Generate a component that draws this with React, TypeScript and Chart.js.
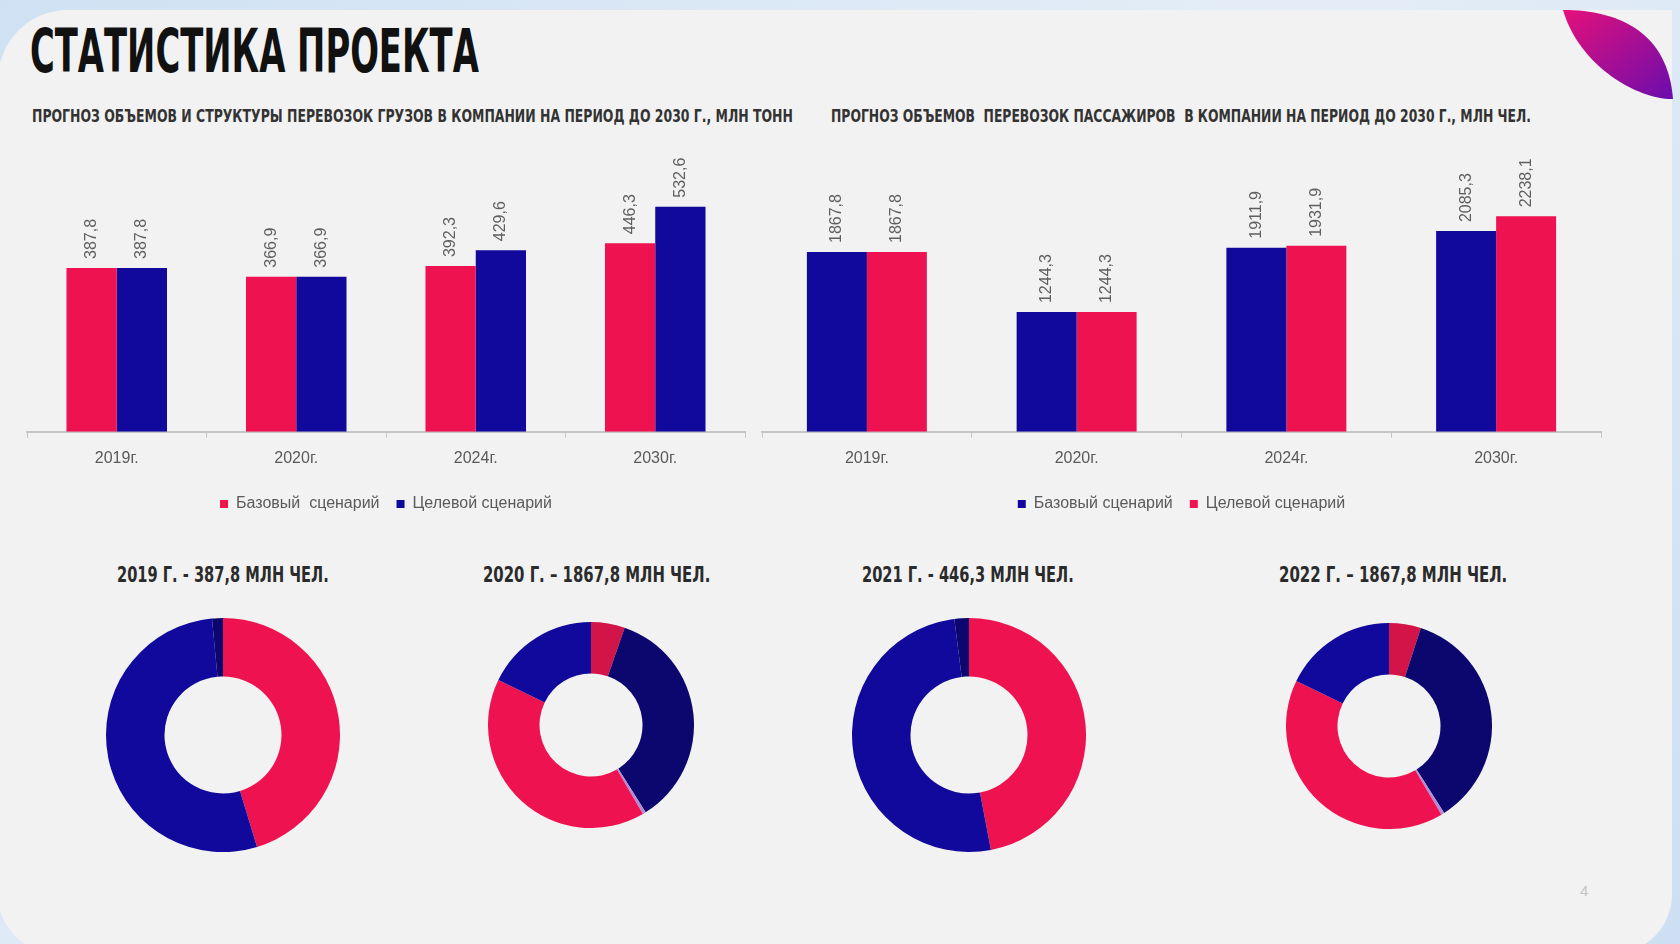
import React, { useEffect, useLayoutEffect, useRef, useState } from 'react';
import { Chart, registerables } from 'chart.js';

Chart.register(...registerables);

const PINK = '#EE1250';
const BLUE = '#10099B';
const NAVY = '#0B076E';
const CRIMSON = '#D21449';
const LILAC = '#B58BD8';

const FONT = "'Liberation Sans', Arial, sans-serif";
const NARROW = "'Liberation Sans Narrow', 'DejaVu Sans Condensed', 'Liberation Sans', sans-serif";

const years = ['2019г.', '2020г.', '2024г.', '2030г.'];
const cargoBase = [387.8, 366.9, 392.3, 446.3];
const cargoTarget = [387.8, 366.9, 429.6, 532.6];
const paxBase = [1867.8, 1244.3, 1911.9, 2085.3];
const paxTarget = [1867.8, 1244.3, 1931.9, 2238.1];
const cargoLegend = ['Базовый  сценарий', 'Целевой сценарий'];
const paxLegend = ['Базовый сценарий', 'Целевой сценарий'];

const donutLabels3 = ['Сегмент 1', 'Сегмент 2', 'Сегмент 3'];
const donutLabels5 = ['Сегмент 1', 'Сегмент 2', 'Сегмент 3', 'Сегмент 4', 'Сегмент 5'];
const donut2019 = [45.3, 53.2, 1.5];
const donut2020 = [5.3, 35.8, 0.5, 40.6, 17.8];
const donut2021 = [47.0, 51.0, 2.0];
const donut2022 = [5.0, 36.0, 0.5, 40.7, 17.8];
const donutColors3 = [PINK, BLUE, NAVY];
const donutColors5 = [CRIMSON, NAVY, LILAC, PINK, BLUE];

const fmt = (v: number) => v.toFixed(1).replace('.', ',');

const barValueLabels = {
  id: 'barValueLabels',
  afterDatasetsDraw(chart: any) {
    const { ctx } = chart;
    ctx.save();
    ctx.font = `16px ${FONT}`;
    ctx.fillStyle = '#5f5f5f';
    chart.data.datasets.forEach((ds: any, di: number) => {
      const meta = chart.getDatasetMeta(di);
      meta.data.forEach((el: any, i: number) => {
        ctx.save();
        ctx.translate(el.x, el.y - 9);
        ctx.rotate(-Math.PI / 2);
        ctx.textAlign = 'left';
        ctx.textBaseline = 'middle';
        ctx.fillText(fmt(ds.data[i]), 0, 0);
        ctx.restore();
      });
    });
    ctx.restore();
  },
};

type BarProps = {
  left: number; top: number; width: number; height: number;
  base: number[]; target: number[]; baseColor: string; targetColor: string;
  legend: string[]; max: number; catPct: number;
};

function BarChart(p: BarProps) {
  const ref = useRef<HTMLCanvasElement>(null);
  useEffect(() => {
    if (!ref.current) return;
    const chart = new Chart(ref.current, {
      type: 'bar',
      data: {
        labels: years,
        datasets: [
          { label: p.legend[0], data: p.base, backgroundColor: p.baseColor, borderWidth: 0, barPercentage: 1, categoryPercentage: p.catPct },
          { label: p.legend[1], data: p.target, backgroundColor: p.targetColor, borderWidth: 0, barPercentage: 1, categoryPercentage: p.catPct },
        ],
      },
      options: {
        animation: false,
        responsive: false,
        maintainAspectRatio: false,
        layout: { padding: { left: 10, right: 10, top: 16, bottom: 0 } },
        plugins: {
          legend: {
            position: 'bottom',
            labels: { boxWidth: 8, boxHeight: 8, padding: 17, color: '#5a5a5a', font: { size: 16, family: FONT } },
          },
          tooltip: { enabled: false },
        },
        scales: {
          x: {
            grid: { display: true, drawOnChartArea: false, drawTicks: true, tickLength: 6, color: '#c6c6c6', offset: true },
            border: { display: true, color: '#c6c6c6', width: 2 },
            ticks: { color: '#5a5a5a', font: { size: 16, family: FONT }, padding: 11 },
          },
          y: { display: false, min: 0, max: p.max },
        },
      },
      plugins: [barValueLabels],
    } as any);
    return () => chart.destroy();
  }, []);
  return (
    <canvas
      ref={ref}
      width={p.width}
      height={p.height}
      style={{ position: 'absolute', left: p.left, top: p.top, width: p.width, height: p.height }}
    />
  );
}

type DonutProps = { cx: number; cy: number; r: number; data: number[]; colors: string[]; labels: string[] };

function Donut(p: DonutProps) {
  const ref = useRef<HTMLCanvasElement>(null);
  const size = Math.round(p.r * 2);
  useEffect(() => {
    if (!ref.current) return;
    const chart = new Chart(ref.current, {
      type: 'doughnut',
      data: {
        labels: p.labels,
        datasets: [{ data: p.data, backgroundColor: p.colors, borderWidth: 0 }],
      },
      options: {
        animation: false,
        responsive: false,
        maintainAspectRatio: false,
        cutout: '50%',
        layout: { padding: 0 },
        plugins: { legend: { display: false }, tooltip: { enabled: false } },
      },
    } as any);
    return () => chart.destroy();
  }, []);
  return (
    <canvas
      ref={ref}
      width={size}
      height={size}
      style={{ position: 'absolute', left: p.cx - size / 2, top: p.cy - size / 2, width: size, height: size }}
    />
  );
}

type FitProps = { text: string; x: number; capTop: number; width: number; size: number; color: string; weight?: number; family?: string };

function FitText(p: FitProps) {
  const ref = useRef<HTMLSpanElement>(null);
  const [s, setS] = useState(1);
  useLayoutEffect(() => {
    if (ref.current) {
      const w = ref.current.offsetWidth;
      if (w > 0) setS(p.width / w);
    }
  }, []);
  return (
    <span
      ref={ref}
      style={{
        position: 'absolute',
        left: p.x,
        top: p.capTop - 0.1175 * p.size,
        fontSize: p.size,
        lineHeight: 1,
        fontFamily: p.family || NARROW,
        fontWeight: p.weight ?? 700,
        color: p.color,
        whiteSpace: 'pre',
        transform: `scaleX(${s})`,
        transformOrigin: 'left top',
      }}
    >
      {p.text}
    </span>
  );
}

export default function App() {
  return (
    <div
      style={{
        position: 'fixed', left: 0, top: 0, width: 1680, height: 944, overflow: 'hidden',
        background: 'linear-gradient(135deg, #cfe1f3 0%, #e4edf7 50%, #cddff2 100%)',
      }}
    >
      <div
        style={{
          position: 'absolute', left: -2, top: 10, width: 1674, height: 944,
          background: '#f2f2f2',
          borderTopLeftRadius: 70, borderBottomLeftRadius: 60, borderBottomRightRadius: 60,
        }}
      />
      <svg width={120} height={100} style={{ position: 'absolute', left: 1560, top: 8 }}>
        <defs>
          <linearGradient id="leafGrad" x1="0" y1="0" x2="1" y2="1">
            <stop offset="0%" stopColor="#E5107A" />
            <stop offset="100%" stopColor="#6A0DAD" />
          </linearGradient>
        </defs>
        <path d="M3,2 C60,2 108,25 113,91 C80,92 20,60 3,2 Z" fill="url(#leafGrad)" />
      </svg>

      <FitText text="СТАТИСТИКА ПРОЕКТА" x={30} capTop={28} width={449} size={60} color="#111111" />
      <FitText
        text="ПРОГНОЗ ОБЪЕМОВ И СТРУКТУРЫ ПЕРЕВОЗОК ГРУЗОВ В КОМПАНИИ НА ПЕРИОД ДО 2030 Г., МЛН ТОНН"
        x={32} capTop={109} width={761} size={18} color="#333333"
      />
      <FitText
        text="ПРОГНОЗ ОБЪЕМОВ  ПЕРЕВОЗОК ПАССАЖИРОВ  В КОМПАНИИ НА ПЕРИОД ДО 2030 Г., МЛН ЧЕЛ."
        x={831} capTop={109} width={700} size={18} color="#333333"
      />

      <BarChart
        left={17} top={120} width={738} height={402}
        base={cargoBase} target={cargoTarget} baseColor={PINK} targetColor={BLUE}
        legend={cargoLegend} max={700} catPct={0.56}
      />
      <BarChart
        left={752} top={120} width={859} height={402}
        base={paxBase} target={paxTarget} baseColor={BLUE} targetColor={PINK}
        legend={paxLegend} max={3073} catPct={0.572}
      />

      <FitText text="2019 Г. - 387,8 МЛН ЧЕЛ." x={117} capTop={567} width={212} size={21} color="#2b2b2b" />
      <FitText text="2020 Г. – 1867,8 МЛН ЧЕЛ." x={483} capTop={567} width={227} size={21} color="#2b2b2b" />
      <FitText text="2021 Г. - 446,3 МЛН ЧЕЛ." x={862} capTop={567} width={212} size={21} color="#2b2b2b" />
      <FitText text="2022 Г. – 1867,8 МЛН ЧЕЛ." x={1279} capTop={567} width={228} size={21} color="#2b2b2b" />

      <Donut cx={223} cy={735} r={117} data={donut2019} colors={donutColors3} labels={donutLabels3} />
      <Donut cx={591} cy={725} r={103} data={donut2020} colors={donutColors5} labels={donutLabels5} />
      <Donut cx={969} cy={735} r={117} data={donut2021} colors={donutColors3} labels={donutLabels3} />
      <Donut cx={1389} cy={726} r={103} data={donut2022} colors={donutColors5} labels={donutLabels5} />

      <span style={{ position: 'absolute', left: 1580, top: 882, fontSize: 15, fontFamily: FONT, color: '#c4c4c4' }}>4</span>
    </div>
  );
}
